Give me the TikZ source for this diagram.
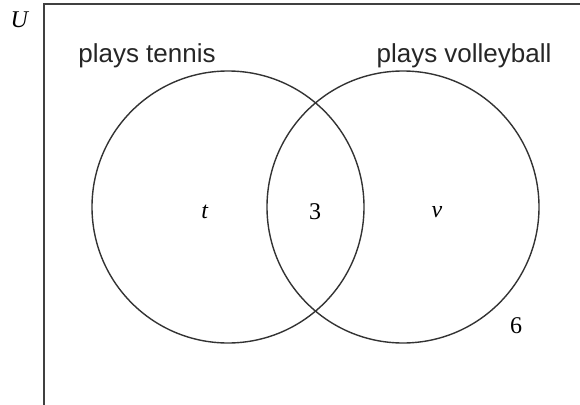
\documentclass[tikz,border=0pt]{standalone}
\usepackage{fontspec}
\setmainfont{Liberation Serif}
\newfontfamily\labelfont{Liberation Sans}
\begin{document}
\begin{tikzpicture}[x=1pt,y=-1pt,
  setlabel/.style={font=\labelfont\fontsize{26}{30}\selectfont, text=black!85, inner sep=0pt},
  region/.style={font=\fontsize{24}{28}\selectfont, inner sep=0pt},
  setcircle/.style={draw=black!80, line width=1.4pt}]
\useasboundingbox (0,0) rectangle (580,404);
\draw[draw=black!75, line width=1.8pt] (44,420) -- (44,4) -- (600,4);
\node[region] (U) at (20,20) {\textit{U}};
\node[setcircle, circle, minimum size=272pt, inner sep=0pt] (A) at (228,207) {};
\node[setcircle, circle, minimum size=272pt, inner sep=0pt] (B) at (403,207) {};
\node[setlabel] (lt) at (147,56) {plays tennis};
\node[setlabel] (lv) at (464,56) {plays volleyball};
\node[region] (t) at (205,212) {\textit{t}};
\node[region] (n3) at (315,212) {3};
\node[region] (v) at (437,212) {\textit{v}};
\node[region] (n6) at (516,326) {6};
\end{tikzpicture}
\end{document}
